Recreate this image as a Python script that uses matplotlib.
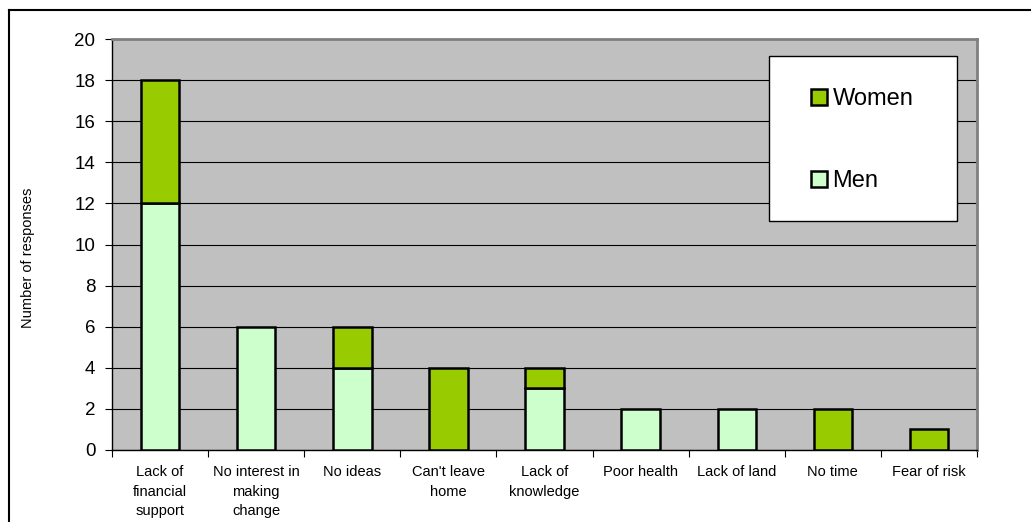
import matplotlib
matplotlib.use("Agg")
import matplotlib.pyplot as plt
from matplotlib.patches import Rectangle, Patch
from matplotlib.lines import Line2D
import numpy as np

plt.rcParams['font.family'] = ['Liberation Sans', 'DejaVu Sans']

categories = [
    "Lack of\nfinancial\nsupport",
    "No interest in\nmaking\nchange",
    "No ideas",
    "Can't leave\nhome",
    "Lack of\nknowledge",
    "Poor health",
    "Lack of land",
    "No time",
    "Fear of risk",
]
men = [12, 6, 4, 0, 3, 2, 2, 0, 0]
women = [6, 0, 2, 4, 1, 0, 0, 2, 1]
y_ticks = list(range(0, 21, 2))

MEN_COLOR = "#CCFFCC"
WOMEN_COLOR = "#99CC00"
PLOT_BG = "#C0C0C0"

W, H = 1031, 522
fig = plt.figure(figsize=(W / 100, H / 100), dpi=100)
fig.patch.set_facecolor("white")

left, right, top, bottom = 112, 977, 39, 450
ax = fig.add_axes([left / W, 1 - bottom / H, (right - left) / W, (bottom - top) / H])
ax.set_facecolor(PLOT_BG)

x = np.arange(len(categories))
bw = 0.4
men_arr = np.array(men)
women_arr = np.array(women)

# Stacked bars: men at the base, women on top; zero-height segments are skipped
for i in x:
    if men_arr[i] > 0:
        ax.bar(i, men_arr[i], width=bw, color=MEN_COLOR, edgecolor="black",
               linewidth=1.8, zorder=3)
    if women_arr[i] > 0:
        ax.bar(i, women_arr[i], width=bw, bottom=men_arr[i], color=WOMEN_COLOR,
               edgecolor="black", linewidth=1.8, zorder=3)

ax.set_xlim(-0.5, len(categories) - 0.5)
ax.set_ylim(0, 20)
ax.set_yticks(y_ticks)
ax.set_yticklabels([str(v) for v in y_ticks], fontsize=13.5)
ax.yaxis.grid(True, color="black", linewidth=0.8, zorder=1)
ax.set_axisbelow(True)

# category boundaries carry the tick marks, labels sit at bar centres
ax.set_xticks(np.arange(-0.5, len(categories), 1.0))
ax.set_xticklabels([])
ax.set_xticks(x, minor=True)
ax.set_xticklabels(categories, minor=True, fontsize=10.5, linespacing=1.5)
ax.tick_params(axis="x", which="major", direction="out", length=5, width=0.8)
ax.tick_params(axis="x", which="minor", length=0, pad=11)
ax.tick_params(axis="y", direction="out", length=5, width=0.8, pad=7)

ax.spines["left"].set_color("black")
ax.spines["bottom"].set_color("black")
ax.spines["left"].set_linewidth(1.0)
ax.spines["bottom"].set_linewidth(1.0)
ax.spines["top"].set_color("#808080")
ax.spines["right"].set_color("#808080")
ax.spines["top"].set_linewidth(2.0)
ax.spines["right"].set_linewidth(2.0)

fig.text(28 / W, 1 - 258 / H, "Number of responses", rotation=90,
         ha="center", va="center", fontsize=10.5)

# legend: white box with the two series, women listed first
box = Rectangle((769 / W, 1 - 221 / H), (957 - 769) / W, (221 - 56) / H,
                transform=fig.transFigure, facecolor="white", edgecolor="black",
                linewidth=1.0, zorder=5)
ax.add_artist(box)
box.set_clip_on(False)
handles = [Patch(facecolor=WOMEN_COLOR, edgecolor="black", linewidth=1.8),
           Patch(facecolor=MEN_COLOR, edgecolor="black", linewidth=1.8)]
leg = fig.legend(handles, ["Women", "Men"], loc="center",
                 bbox_to_anchor=(862 / W, 1 - 140 / H),
                 frameon=False, fontsize=17, handlelength=0.68,
                 handleheight=0.68, handletextpad=0.25, labelspacing=2.55,
                 borderpad=0)
leg.set_zorder(6)

# outer chart border (left and top edges)
fig.add_artist(Line2D([8.5 / W, 8.5 / W], [0, 1 - 10 / H], color="black",
                      linewidth=1.5, transform=fig.transFigure))
fig.add_artist(Line2D([8.5 / W, 1], [1 - 10 / H, 1 - 10 / H], color="black",
                      linewidth=1.5, transform=fig.transFigure))

fig.savefig("out.png", dpi=100)
